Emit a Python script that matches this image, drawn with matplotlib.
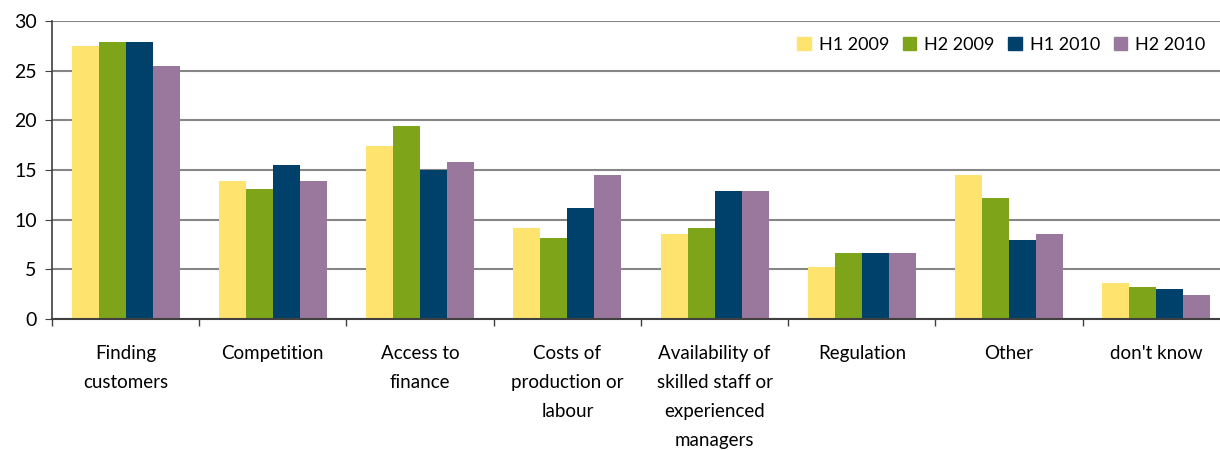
import numpy as np
import matplotlib
matplotlib.use("Agg")
import matplotlib.pyplot as plt
from matplotlib.patches import Patch

plt.rcParams['font.family'] = ['Lato', 'DejaVu Sans']

categories = ["Finding\ncustomers", "Competition", "Access to\nfinance",
              "Costs of\nproduction or\nlabour",
              "Availability of\nskilled staff or\nexperienced\nmanagers",
              "Regulation", "Other", "don't know"]
series_names = ["H1 2009", "H2 2009", "H1 2010", "H2 2010"]
h1_2009 = [27.5, 13.9, 17.4, 9.2, 8.6, 5.2, 14.5, 3.6]
h2_2009 = [27.9, 13.1, 19.4, 8.2, 9.2, 6.6, 12.2, 3.2]
h1_2010 = [27.9, 15.5, 15.0, 11.2, 12.9, 6.6, 8.0, 3.0]
h2_2010 = [25.5, 13.9, 15.8, 14.5, 12.9, 6.6, 8.6, 2.4]
colors = ["#FEE46F", "#7EA51A", "#00416B", "#9A789D"]

fig = plt.figure(figsize=(12.2, 4.5), dpi=100)
ax = fig.add_axes([52/1220, 131/450, 1178/1220, 298/450])

x = np.arange(len(categories))
w = 0.183
for i, vals in enumerate([h1_2009, h2_2009, h1_2010, h2_2010]):
    ax.bar(x + (i - 1.5) * w, vals, width=w, color=colors[i], zorder=3)

ax.set_xlim(-0.5, len(categories) - 0.5)
ax.set_ylim(0, 30)
ax.set_yticks(range(0, 31, 5))
ax.yaxis.grid(True, color="#868686", linewidth=1.5, zorder=0)
ax.set_axisbelow(True)

for s in ["top", "right"]:
    ax.spines[s].set_visible(False)
ax.spines["left"].set_color("#404040")
ax.spines["bottom"].set_color("#404040")
ax.spines["left"].set_linewidth(1.2)
ax.spines["bottom"].set_linewidth(1.5)
ax.spines["bottom"].set_zorder(4)

ax.set_xticks(x)
ax.set_xticklabels(categories, fontsize=13.5, linespacing=1.85, va="top")
ax.tick_params(axis="x", length=0, pad=19)
ax.set_xticks(np.arange(-0.5, len(categories), 1.0), minor=True)
ax.tick_params(axis="x", which="minor", length=5, color="#404040", width=1)
ax.tick_params(axis="y", length=5, color="#404040", labelsize=14, pad=6)

handles = [Patch(color=c) for c in colors]
fig.legend(handles, series_names, loc="center left",
           bbox_to_anchor=(797/1220, 1 - 45/450), ncol=4, frameon=False,
           fontsize=13, handlelength=0.75, handleheight=0.75,
           handletextpad=0.45, columnspacing=0.75, borderpad=0, borderaxespad=0)

fig.savefig("out.png", dpi=100)
